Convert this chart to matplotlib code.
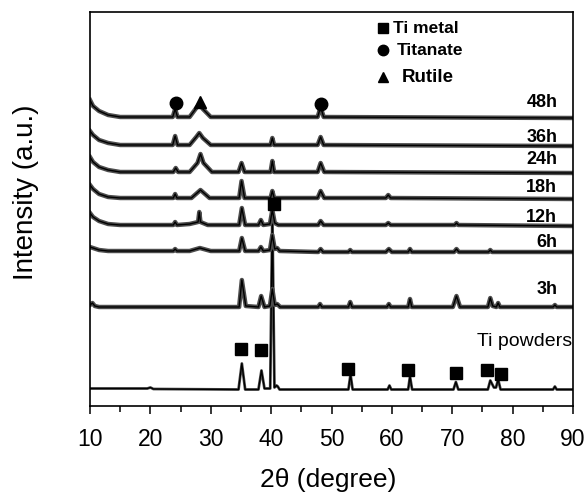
import matplotlib
matplotlib.use("Agg")
from matplotlib import pyplot as plt
from matplotlib.ticker import MultipleLocator

plt.rcParams['font.family'] = ['Liberation Sans', 'DejaVu Sans']

# stacked XRD patterns, heights in arbitrary units above each baseline
ti_x = [10, 19.5, 20, 20.5, 34.6, 35.15, 35.7, 37.9, 38.4, 38.9, 39.85, 40.2, 40.55, 40.9, 41.1, 41.4,
        52.8, 53.15, 53.5, 59.3, 59.6, 59.9, 62.7, 63.0, 63.35, 70.2, 70.6, 71.0,
        75.9, 76.3, 76.9, 77.25, 77.6, 78.0, 86.7, 87.0, 87.3, 89.9]
ti_y = [1, 1, 2, 0.5, 0, 26, 0, 0, 19, 1, 1, 177, 2, 4, 3, 0,
        0, 15, 0, 0, 4, 0, 0, 13, 0, 0, 7.5, 0,
        0, 9, 2, 2, 10, 0, 0, 3, 0, 0]

h3_x = [10, 10.4, 10.8, 11.5, 34.7, 35.15, 35.8, 37.9, 38.35, 38.9, 39.8, 40.2, 40.6, 41.0, 41.5,
        47.8, 48.1, 48.4, 52.8, 53.1, 53.4, 59.2, 59.5, 59.8, 62.7, 63.0, 63.3,
        70.1, 70.7, 71.3, 75.9, 76.3, 76.7, 77.3, 77.6, 77.9, 86.7, 87.0, 87.3, 89.9]
h3_y = [2, 4, 1, 0, 0, 27, 1, 0, 11, 0, 1, 18, 2, 3, 0,
        0, 3, 0, 0, 5, 0, 0, 3, 0, 0, 8, 0,
        0, 11, 0, 0, 9, 1, 0, 4, 0, 0, 2, 0, 0]

h6_x = [10, 10.5, 11.5, 13, 23.8, 24.1, 24.4, 26.5, 28.2, 30, 34.7, 35.15, 35.7, 37.9, 38.3, 38.7,
        39.8, 40.2, 40.6, 41.0, 41.4, 47.8, 48.2, 48.6, 52.8, 53.1, 53.4, 59.0, 59.5, 60.0,
        62.7, 63.0, 63.3, 70.3, 70.7, 71.1, 76.0, 76.3, 76.6, 89.9]
h6_y = [5, 4, 2, 1, 1, 3, 1, 1, 4, 1, 1, 14, 1, 1, 5, 1,
        2, 17, 3, 4, 1, 0, 3, 0, 0, 2, 0, 0, 3, 0,
        0, 3, 0, 0, 3, 0, 0, 2, 0, 0]

h12_x = [10, 10.5, 11.5, 13, 15, 23.8, 24.1, 24.4, 26.5, 27.9, 28.1, 28.3, 29.5, 34.7, 35.15, 35.7,
         37.9, 38.3, 38.7, 39.8, 40.2, 40.6, 41.2, 47.8, 48.2, 48.7, 59.0, 59.4, 59.8,
         70.4, 70.7, 71.0, 89.9]
h12_y = [13, 9, 5, 2, 1, 1, 4, 1, 2, 4, 14, 4, 1, 1, 18, 1,
         1, 6, 1, 2, 16, 3, 1, 1, 5, 1, 1, 3, 1,
         1, 3, 1, 0]

h18_x = [10, 10.5, 11.5, 13, 15, 23.8, 24.1, 24.4, 26.8, 28.3, 29.8, 34.7, 35.1, 35.6,
         39.9, 40.2, 40.5, 47.7, 48.2, 48.8, 59.0, 59.4, 59.8, 89.9]
h18_y = [14, 10, 5, 2, 1, 1, 5, 1, 1, 9, 1, 1, 18, 1,
         1, 8, 1, 1, 8, 1, 1, 4, 1, 0]

h24_x = [10, 10.5, 11.5, 13, 15, 23.8, 24.2, 24.6, 26.5, 27.8, 28.3, 28.8, 30.2, 34.6, 35.1, 35.6,
         39.9, 40.2, 40.5, 47.7, 48.2, 48.8, 89.9]
h24_y = [16, 11, 6, 3, 1, 1, 5, 1, 1, 10, 19, 10, 1, 1, 10, 1,
         1, 12, 1, 1, 10, 1, 0]

h36_x = [10, 10.5, 11.5, 13, 15, 23.7, 24.1, 24.5, 26.5, 27.6, 28.1, 28.7, 30.0,
         39.9, 40.2, 40.5, 47.7, 48.2, 48.7, 89.9]
h36_y = [15, 11, 6, 3, 1, 1, 10, 1, 1, 9, 13, 8, 1,
         1, 8, 1, 1, 9, 1, 0]

h48_x = [10, 10.5, 11.5, 13, 15, 23.7, 24.1, 24.5, 26.5, 27.6, 28.1, 28.7, 30.0,
         47.7, 48.2, 48.7, 89.9]
h48_y = [18, 12, 7, 3, 1, 1, 9, 1, 1, 10, 14, 9, 1,
         1, 11, 1, 0]

series_x = [ti_x, h3_x, h6_x, h12_x, h18_x, h24_x, h36_x, h48_x]
series_y = [ti_y, h3_y, h6_y, h12_y, h18_y, h24_y, h36_y, h48_y]
offsets = [16.5, 99, 154, 180, 207, 233, 260, 288]
labels = ["Ti powders", "3h", "6h", "12h", "18h", "24h", "36h", "48h"]
label_y = [64, 116, 164, 189, 219, 246, 269, 304]

# phase markers
ti_mark_x = [35.0, 38.4, 40.4, 52.8, 62.6, 70.6, 75.8, 78.0]
ti_mark_y = [57.5, 56.5, 202, 37.5, 36, 33, 36.5, 32.5]
titanate_x = [24.2, 48.2]
titanate_y = [303, 302]
rutile_x = [28.3]
rutile_y = [304]

fig = plt.figure(figsize=(5.88, 4.96), dpi=100)
ax = fig.add_axes([90 / 588, 90 / 496, 483 / 588, 394 / 496])

for i, (xs, ys, off) in enumerate(zip(series_x, series_y, offsets)):
    yy = [v + off for v in ys]
    band = 2.0 if i == 0 else 3.2
    ax.plot(xs, yy, color='0.3', lw=band, solid_joinstyle='round')
    ax.plot(xs, yy, color='black', lw=1.0)

for i in range(len(labels)):
    if labels[i] == "Ti powders":
        ax.text(89.9, label_y[i], labels[i], ha='right', va='center', fontsize=14)
    else:
        ax.text(87.4, label_y[i], labels[i], ha='right', va='center', fontsize=13, fontweight='bold')

ax.plot(ti_mark_x, ti_mark_y, 's', color='black', ms=8)
ax.plot(titanate_x, titanate_y, 'o', color='black', ms=9)
ax.plot(rutile_x, rutile_y, '^', color='black', ms=9)

# legend drawn by hand like the original
ax.plot([58.6], [378], 's', color='black', ms=6.5)
ax.plot([58.5], [356], 'o', color='black', ms=7.5)
ax.plot([58.5], [329], '^', color='black', ms=7.5)
ax.text(60.2, 378, "Ti metal", va='center', fontsize=12.5, fontweight='bold')
ax.text(60.8, 356, "Titanate", va='center', fontsize=12.5, fontweight='bold')
ax.text(61.6, 329, "Rutile", va='center', fontsize=13.5, fontweight='bold')

ax.set_xlim(10, 90)
ax.set_ylim(0, 394)
ax.xaxis.set_major_locator(MultipleLocator(10))
ax.xaxis.set_minor_locator(MultipleLocator(5))
ax.tick_params(axis='x', which='major', direction='out', length=6, width=1.1, labelsize=16.5, pad=10)
ax.tick_params(axis='x', which='minor', direction='out', length=4, width=1.1)
ax.set_yticks([])
for s in ax.spines.values():
    s.set_linewidth(1.2)

fig.text(26 / 588, 1 - 192 / 496, "Intensity (a.u.)", rotation=90, ha='center', va='center', fontsize=20)
fig.text(328 / 588, 1 - 480 / 496, "2θ (degree)", ha='center', va='center', fontsize=19)

plt.savefig("out.png", dpi=100)
